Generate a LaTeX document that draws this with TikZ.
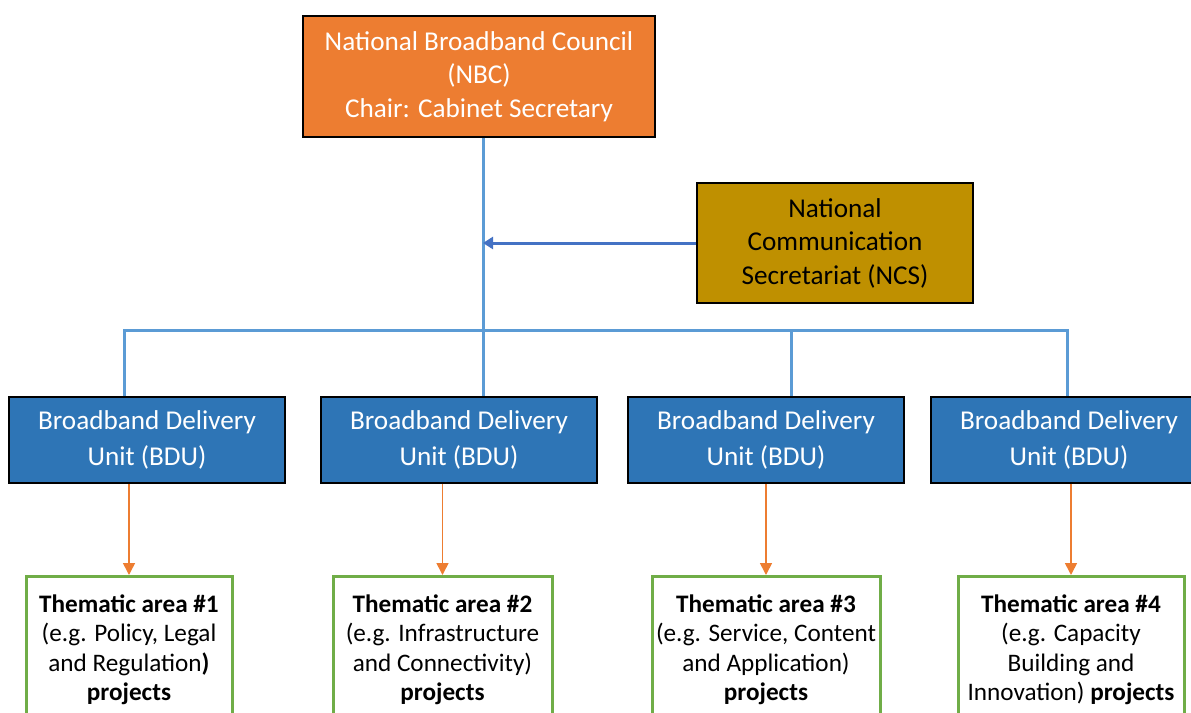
\documentclass[tikz,border=0pt]{standalone}
\usepackage{fontspec}
\setmainfont{Carlito}
\usetikzlibrary{arrows.meta}
\definecolor{nbcorange}{HTML}{ED7D31}
\definecolor{ncsgold}{HTML}{BF9000}
\definecolor{bdublue}{HTML}{2E75B6}
\definecolor{linkblue}{HTML}{5B9BD5}
\definecolor{ncsblue}{HTML}{4472C4}
\definecolor{areagreen}{HTML}{70AD47}
\begin{document}
\begin{tikzpicture}[x=0.5pt,y=-0.5pt,
    box/.style={draw=black,line width=0.8pt,inner sep=0pt,align=center},
    nbcbox/.style={box,fill=nbcorange,text=white,minimum width=176pt,minimum height=60.5pt,
        font=\fontsize{13.6}{16.75}\selectfont},
    ncsbox/.style={box,fill=ncsgold,text=black,minimum width=138pt,minimum height=60pt,
        font=\fontsize{13.6}{16.75}\selectfont},
    bdubox/.style={box,fill=bdublue,text=white,minimum width=138pt,minimum height=43pt,
        font=\fontsize{13.6}{18}\selectfont},
    areabox/.style={draw=areagreen,line width=1.5pt,anchor=north,align=center,
        inner xsep=2pt,inner ysep=9pt,minimum width=#1,
        font=\fontsize{12.6}{14.75}\selectfont},
    link/.style={draw=linkblue,line width=1.5pt},
    feed/.style={draw=nbcorange,line width=0.8pt,-{Triangle[length=6pt,width=6pt]}}]
    \clip (0,0) rectangle (1191,713);
    % council and secretariat
    \node[nbcbox] (nbc) at (479,76.5) {National Broadband Council\\(NBC)\\Chair: Cabinet Secretary};
    \node[ncsbox] (ncs) at (835,243) {National\\Communication\\Secretariat (NCS)};
    % delivery units
    \node[bdubox] (bdu1) at (147,440) {Broadband Delivery\\Unit (BDU)};
    \node[bdubox] (bdu2) at (459,440) {Broadband Delivery\\Unit (BDU)};
    \node[bdubox] (bdu3) at (766,440) {Broadband Delivery\\Unit (BDU)};
    \node[bdubox] (bdu4) at (1069,440) {Broadband Delivery\\Unit (BDU)};
    % thematic areas
    \node[areabox=103pt] (area1) at (129,575) {\textbf{Thematic area \#1}\\(e.g. Policy, Legal\\and Regulation\textbf{)}\\\textbf{projects}};
    \node[areabox=109.5pt] (area2) at (442.5,575) {\textbf{Thematic area \#2}\\(e.g. Infrastructure\\and Connectivity)\\\textbf{projects}};
    \node[areabox=113pt] (area3) at (766,575) {\textbf{Thematic area \#3}\\(e.g. Service, Content\\and Application)\\\textbf{projects}};
    \node[areabox=113pt] (area4) at (1071,575) {\textbf{Thematic area \#4}\\(e.g. Capacity\\Building and\\Innovation) \textbf{projects}};
    % blue lines
    \coordinate (hub) at (483,330);
    \coordinate (b1) at (124,330);
    \coordinate (b3) at (791,330);
    \coordinate (b4) at (1067,330);
    \draw[link] (hub |- nbc.south) -- (hub |- bdu2.north);
    \draw[link] (b1 |- bdu1.north) -- (b1) -- (b4) -- (b4 |- bdu4.north);
    \draw[link] (b3) -- (b3 |- bdu3.north);
    \draw[draw=ncsblue,line width=1.5pt,-{Triangle[length=5pt,width=6pt]}] (ncs.west) -- (ncs.west -| hub);
    % orange arrows
    \draw[feed] (area1.north |- bdu1.south) -- (area1.north);
    \draw[feed] (area2.north |- bdu2.south) -- (area2.north);
    \draw[feed] (area3.north |- bdu3.south) -- (area3.north);
    \draw[feed] (area4.north |- bdu4.south) -- (area4.north);
\end{tikzpicture}
\end{document}
